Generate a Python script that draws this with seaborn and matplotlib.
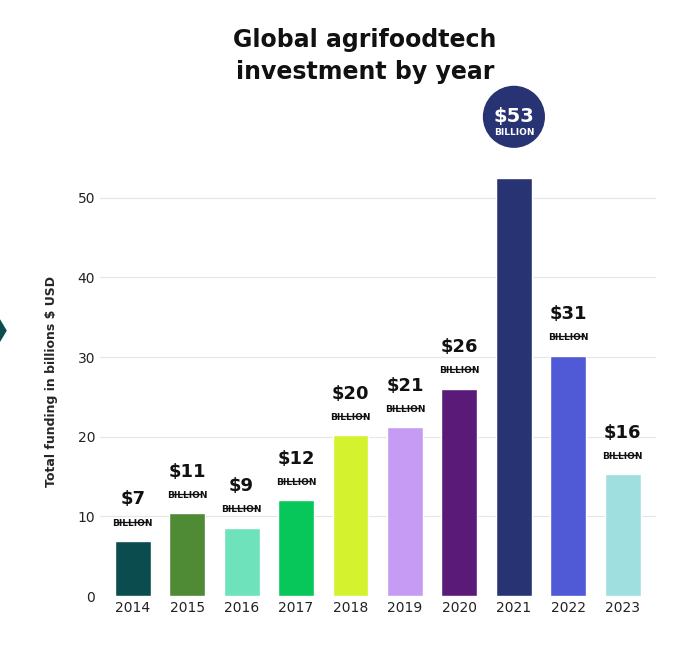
import seaborn as sns
import matplotlib.pyplot as plt
import pandas as pd
from matplotlib.patches import Circle, Polygon

years = ["2014", "2015", "2016", "2017", "2018", "2019", "2020", "2021", "2022", "2023"]
funding = [6.9, 10.4, 8.6, 12.0, 20.2, 21.2, 26.0, 52.5, 30.2, 15.3]
labels = ["$7", "$11", "$9", "$12", "$20", "$21", "$26", "$53", "$31", "$16"]
colors = ["#0b4d4f", "#4f8a35", "#6ee3bb", "#08c75a", "#d5f22e", "#c59bf3",
          "#5a1b78", "#283373", "#5059d6", "#9fdfe0"]

sns.set_style("whitegrid")
plt.rcParams['font.family'] = ['DejaVu Sans']

df = pd.DataFrame({"year": years, "funding": funding})
fig = plt.figure(figsize=(6.8, 6.72), dpi=100)
ax = fig.add_axes([0.147, 0.113, 0.817, 0.64])
sns.barplot(data=df, x="year", y="funding", hue="year", palette=colors,
            legend=False, width=0.66, ax=ax, saturation=1)

ax.set_ylim(0, 54)
ax.set_yticks([0, 10, 20, 30, 40, 50])
ax.set_xlim(-0.6, 9.6)
ax.grid(axis="x", visible=False)
ax.grid(axis="y", color="#e6e6e6", linewidth=0.8)
for s in ax.spines.values():
    s.set_visible(False)
ax.tick_params(axis="both", labelsize=10, colors="#222222", length=0)
ax.set_xlabel("")
ax.set_ylabel("Total funding in billions $ USD", fontsize=9, fontweight="bold", labelpad=14)

for i, (v, lab) in enumerate(zip(funding, labels)):
    if i == 7:
        circ = Circle((0.5, 0.5), 0.05, transform=fig.transFigure)
        ax.annotate(lab, (i, v), xytext=(0, 44), textcoords="offset points",
                    ha="center", va="center", fontsize=14, fontweight="bold", color="white",
                    bbox=dict(boxstyle="circle,pad=0.55", fc="#283373", ec="none"),
                    annotation_clip=False)
        ax.annotate("BILLION", (i, v), xytext=(0, 33), textcoords="offset points",
                    ha="center", va="center", fontsize=6.5, fontweight="bold", color="white",
                    annotation_clip=False)
        continue
    ax.annotate(lab, (i, v), xytext=(0, 30), textcoords="offset points",
                ha="center", va="center", fontsize=13, fontweight="bold", color="#111111")
    ax.annotate("", (i, v), xytext=(0, 0), textcoords="offset points")
    ax.plot([i - 0.26, i + 0.26], [v + 2.45, v + 2.45], color="#111111", lw=0.9)
    ax.annotate("BILLION", (i, v), xytext=(0, 13), textcoords="offset points",
                ha="center", va="center", fontsize=6.5, fontweight="bold", color="#111111")

fig.text(0.537, 0.94, "Global agrifoodtech", ha="center", va="center",
         fontsize=17, fontweight="bold", color="#111111")
fig.text(0.537, 0.893, "investment by year", ha="center", va="center",
         fontsize=17, fontweight="bold", color="#111111")
fig.patches.append(Polygon([[0, 0.525], [0.01, 0.508], [0, 0.491]], closed=True,
                           transform=fig.transFigure, fc="#0b4d4f", ec="none"))

fig.savefig("out.png", dpi=100)
